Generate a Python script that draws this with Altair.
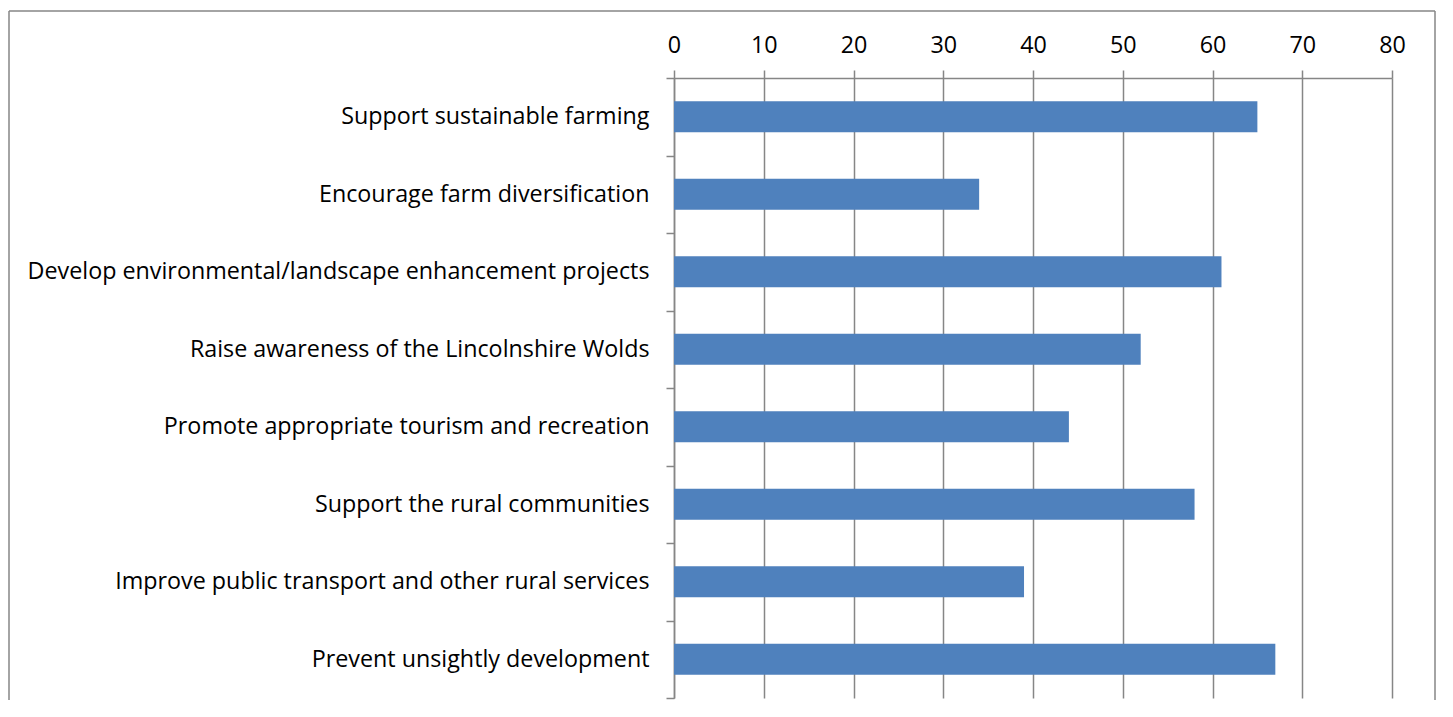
import altair as alt
import pandas as pd

categories = [
    "Support sustainable farming",
    "Encourage farm diversification",
    "Develop environmental/landscape enhancement projects",
    "Raise awareness of the Lincolnshire Wolds",
    "Promote appropriate tourism and recreation",
    "Support the rural communities",
    "Improve public transport and other rural services",
    "Prevent unsightly development",
]
values = [65, 34, 61, 52, 44, 58, 39, 67]
tick_values = [0, 10, 20, 30, 40, 50, 60, 70, 80]

W = 718
H = 620
GRAY = "#868686"
FONT = "Open Sans"
FS = 23.3
LW = 1.5

df = pd.DataFrame({"category": categories, "value": values})
one = pd.DataFrame({"a": [0]})

bars = alt.Chart(df).mark_bar(size=31, color="#4F81BD").encode(
    x=alt.X(
        "value:Q",
        scale=alt.Scale(domain=[0, 80], nice=False),
        axis=alt.Axis(
            orient="top",
            values=tick_values,
            title=None,
            grid=True,
            gridColor=GRAY,
            gridWidth=LW,
            domainColor=GRAY,
            domainWidth=LW,
            tickColor=GRAY,
            tickWidth=LW,
            tickSize=8,
            labelFont=FONT,
            labelFontSize=FS,
            labelColor="#000000",
            labelPadding=13,
            labelFlush=False,
            labelAngle=0,
        ),
    ),
    y=alt.Y(
        "category:N",
        sort=None,
        scale=alt.Scale(paddingInner=0, paddingOuter=0),
        axis=alt.Axis(
            title=None,
            grid=False,
            tickBand="extent",
            domainColor=GRAY,
            domainWidth=LW,
            tickColor=GRAY,
            tickWidth=LW,
            tickSize=8,
            labelFont=FONT,
            labelFontSize=FS,
            labelColor="#000000",
            labelPadding=17,
            labelLimit=1000,
        ),
    ),
)

BL = -665
BR = 761
BT = -67
BB = H + 2

border_left = alt.Chart(one).mark_rule(color=GRAY, strokeWidth=1.5).encode(
    x=alt.value(BL), y=alt.value(BT), y2=alt.value(BB)
)
border_right = alt.Chart(one).mark_rule(color=GRAY, strokeWidth=1.5).encode(
    x=alt.value(BR), y=alt.value(BT), y2=alt.value(BB)
)
border_top = alt.Chart(one).mark_rule(color=GRAY, strokeWidth=1.5).encode(
    x=alt.value(BL), x2=alt.value(BR), y=alt.value(BT)
)

chart = alt.layer(bars, border_left, border_right, border_top).properties(
    width=W,
    height=H,
    padding={"left": 0, "top": 2, "right": 0, "bottom": 0},
).configure_view(stroke=None)

chart.save("out.html", embed_options={"renderer": "svg", "actions": False})
